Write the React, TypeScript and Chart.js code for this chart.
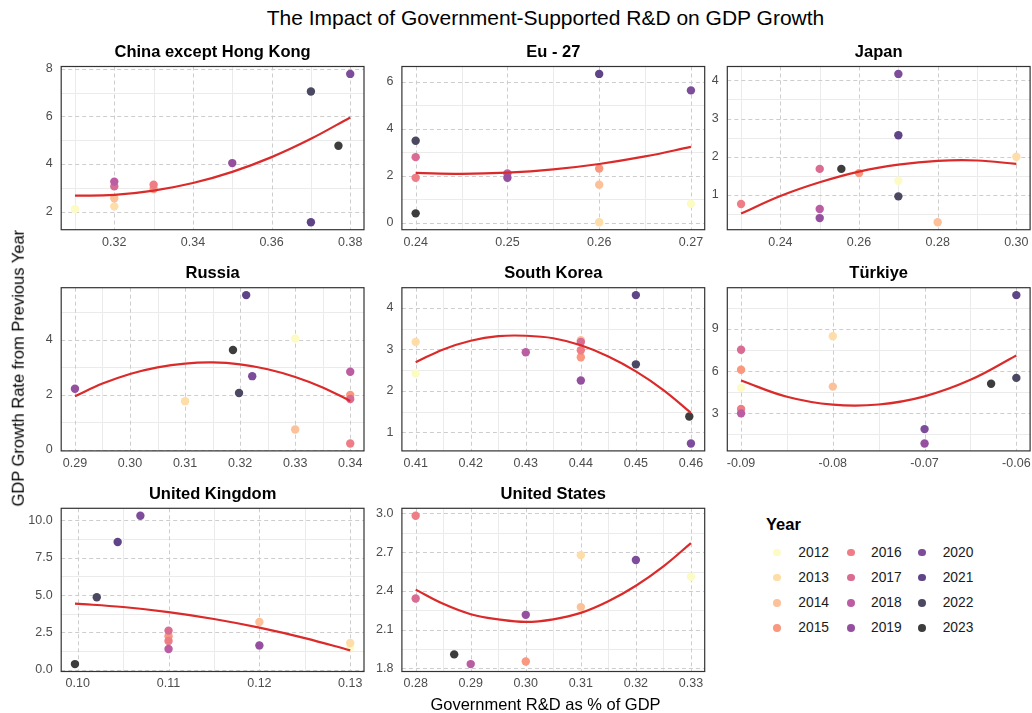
import React, { useEffect, useRef } from "react";
import { Chart, registerables } from "chart.js";

Chart.register(...registerables);

const FONT = "'Liberation Sans', Arial, Helvetica, sans-serif";

// ---------------- Data ----------------
const yearLabels = ["2012", "2013", "2014", "2015", "2016", "2017", "2018", "2019", "2020", "2021", "2022", "2023"];
const yearColors = ["#FCFBC4", "#FEDDA8", "#FDC19A", "#F9977F", "#EE7D86", "#D86C92", "#BA5DA2", "#94509E", "#7D4C9A", "#5F4487", "#4B4862", "#3D3D3D"];

const allYears = [2012, 2013, 2014, 2015, 2016, 2017, 2018, 2019, 2020, 2021, 2022, 2023];

// China except Hong Kong
const chinaX = [0.31, 0.32, 0.32, 0.33, 0.33, 0.32, 0.32, 0.35, 0.38, 0.37, 0.37, 0.377];
const chinaY = [2.11, 2.22, 2.56, 2.95, 3.13, 3.06, 3.26, 4.04, 7.79, 1.55, 7.05, 4.77];
const chinaXTicks = [0.32, 0.34, 0.36, 0.38];
const chinaYTicks = [2, 4, 6, 8];
const chinaFitX = [0.31, 0.32, 0.33, 0.34, 0.35, 0.36, 0.37, 0.38];
const chinaFitY = [2.67, 2.7, 2.88, 3.2, 3.67, 4.29, 5.06, 5.96];

// Eu - 27
const euX = [0.27, 0.26, 0.26, 0.26, 0.24, 0.24, 0.25, 0.25, 0.27, 0.26, 0.24, 0.24];
const euY = [0.81, 0.02, 1.62, 2.31, 1.91, 2.79, 2.1, 1.91, 5.63, 6.33, 3.49, 0.4];
const euXTicks = [0.24, 0.25, 0.26, 0.27];
const euYTicks = [0, 2, 4, 6];
const euFitX = [0.24, 0.245, 0.25, 0.255, 0.26, 0.265, 0.27];
const euFitY = [2.12, 2.08, 2.13, 2.27, 2.5, 2.82, 3.23];

// Japan
const japanX = [0.27, 0.3, 0.28, 0.26, 0.23, 0.25, 0.25, 0.25, 0.27, 0.27, 0.27, 0.2555];
const japanY = [1.37, 2.0, 0.28, 1.57, 0.76, 1.68, 0.63, 0.39, 4.17, 2.56, 0.96, 1.68];
const japanXTicks = [0.24, 0.26, 0.28, 0.3];
const japanYTicks = [1, 2, 3, 4];
const japanFitX = [0.23, 0.24, 0.25, 0.26, 0.27, 0.28, 0.29, 0.3];
const japanFitY = [0.51, 0.97, 1.33, 1.61, 1.79, 1.89, 1.9, 1.81];

// Russia
const russiaX = [0.33, 0.31, 0.33, 0.34, 0.34, 0.34, 0.34, 0.29, 0.3222, 0.3211, 0.3198, 0.3187];
const russiaY = [4.05, 1.77, 0.74, 2.0, 0.23, 1.85, 2.84, 2.22, 2.68, 5.63, 2.07, 3.63];
const russiaXTicks = [0.29, 0.3, 0.31, 0.32, 0.33, 0.34];
const russiaYTicks = [0, 2, 4];
const russiaFitX = [0.29, 0.295, 0.3, 0.305, 0.31, 0.315, 0.32, 0.325, 0.33, 0.335, 0.34];
const russiaFitY = [1.95, 2.41, 2.76, 3.0, 3.14, 3.18, 3.11, 2.93, 2.65, 2.27, 1.78];

// South Korea
const koreaX = [0.41, 0.41, 0.44, 0.44, 0.44, 0.44, 0.43, 0.44, 0.46, 0.45, 0.45, 0.4597];
const koreaY = [2.42, 3.18, 3.22, 2.81, 2.98, 3.18, 2.93, 2.25, 0.73, 4.31, 2.64, 1.38];
const koreaXTicks = [0.41, 0.42, 0.43, 0.44, 0.45, 0.46];
const koreaYTicks = [1, 2, 3, 4];
const koreaFitX = [0.41, 0.415, 0.42, 0.425, 0.43, 0.435, 0.44, 0.445, 0.45, 0.455, 0.46];
const koreaFitY = [2.69, 3.0, 3.21, 3.32, 3.33, 3.27, 3.1, 2.83, 2.47, 2.02, 1.47];

// Türkiye
const turkeyX = [-0.09, -0.08, -0.08, -0.09, -0.09, -0.09, -0.09, -0.07, -0.07, -0.06, -0.06, -0.06275];
const turkeyY = [4.81, 8.48, 4.9, 6.1, 3.31, 7.52, 3.0, 0.86, 1.88, 11.4, 5.52, 5.1];
const turkeyXTicks = [-0.09, -0.08, -0.07, -0.06];
const turkeyYTicks = [3, 6, 9];
const turkeyFitX = [-0.09, -0.085, -0.08, -0.075, -0.07, -0.065, -0.06];
const turkeyFitY = [5.33, 4.18, 3.62, 3.63, 4.21, 5.38, 7.11];

// United Kingdom
const ukX = [0.13, 0.13, 0.12, 0.11, 0.11, 0.11, 0.11, 0.12, 0.1069, 0.1044, 0.1021, 0.0997];
const ukY = [1.5, 1.79, 3.2, 2.24, 1.92, 2.62, 1.39, 1.63, 10.31, 8.55, 4.85, 0.38];
const ukXTicks = [0.1, 0.11, 0.12, 0.13];
const ukYTicks = [0, 2.5, 5, 7.5, 10];
const ukFitX = [0.0997, 0.105, 0.11, 0.115, 0.12, 0.125, 0.13];
const ukFitY = [4.43, 4.2, 3.86, 3.4, 2.82, 2.12, 1.3];

// United States
const usYears = [2012, 2013, 2014, 2015, 2016, 2017, 2018, 2019, 2020, 2023];
const usX = [0.33, 0.31, 0.31, 0.3, 0.28, 0.28, 0.29, 0.3, 0.32, 0.287];
const usY = [2.51, 2.677, 2.275, 1.854, 2.982, 2.342, 1.834, 2.215, 2.639, 1.909];
const usXTicks = [0.28, 0.29, 0.3, 0.31, 0.32, 0.33];
const usYTicks = [1.8, 2.1, 2.4, 2.7, 3.0];
const usFitX = [0.28, 0.285, 0.29, 0.295, 0.3, 0.305, 0.31, 0.315, 0.32, 0.325, 0.33];
const usFitY = [2.41, 2.3, 2.22, 2.18, 2.16, 2.18, 2.23, 2.32, 2.44, 2.59, 2.77];

// ---------------- Panel definitions ----------------
type PanelDef = {
  title: string;
  years: number[];
  x: number[];
  y: number[];
  xTicks: number[];
  yTicks: number[];
  xDec: number;
  yDec: number;
  fitX: number[];
  fitY: number[];
  col: number;
  row: number;
};

const panels: PanelDef[] = [
  { title: "China except Hong Kong", years: allYears, x: chinaX, y: chinaY, xTicks: chinaXTicks, yTicks: chinaYTicks, xDec: 2, yDec: 0, fitX: chinaFitX, fitY: chinaFitY, col: 0, row: 0 },
  { title: "Eu - 27", years: allYears, x: euX, y: euY, xTicks: euXTicks, yTicks: euYTicks, xDec: 2, yDec: 0, fitX: euFitX, fitY: euFitY, col: 1, row: 0 },
  { title: "Japan", years: allYears, x: japanX, y: japanY, xTicks: japanXTicks, yTicks: japanYTicks, xDec: 2, yDec: 0, fitX: japanFitX, fitY: japanFitY, col: 2, row: 0 },
  { title: "Russia", years: allYears, x: russiaX, y: russiaY, xTicks: russiaXTicks, yTicks: russiaYTicks, xDec: 2, yDec: 0, fitX: russiaFitX, fitY: russiaFitY, col: 0, row: 1 },
  { title: "South Korea", years: allYears, x: koreaX, y: koreaY, xTicks: koreaXTicks, yTicks: koreaYTicks, xDec: 2, yDec: 0, fitX: koreaFitX, fitY: koreaFitY, col: 1, row: 1 },
  { title: "Türkiye", years: allYears, x: turkeyX, y: turkeyY, xTicks: turkeyXTicks, yTicks: turkeyYTicks, xDec: 2, yDec: 0, fitX: turkeyFitX, fitY: turkeyFitY, col: 2, row: 1 },
  { title: "United Kingdom", years: allYears, x: ukX, y: ukY, xTicks: ukXTicks, yTicks: ukYTicks, xDec: 2, yDec: 1, fitX: ukFitX, fitY: ukFitY, col: 0, row: 2 },
  { title: "United States", years: usYears, x: usX, y: usY, xTicks: usXTicks, yTicks: usYTicks, xDec: 2, yDec: 1, fitX: usFitX, fitY: usFitY, col: 1, row: 2 },
];

// ---------------- Layout ----------------
const COL_LEFT = [61.2, 401.9, 727.3];
const ROW_TOP = [66.5, 287.7, 508.3];
const PLOT_W = 302.8;
const PLOT_H = 163.2;
const Y_SPACE = 50;
const T_SPACE = 28;
const X_SPACE = 24;
const RIGHT_PAD = 8;
const TITLE_FONT = 16.5;
const TITLE_PAD_BOTTOM = 3.9;
const LINE_COLOR = "#DB2A2A";

function expandRange(arr: number[]): [number, number] {
  const lo = Math.min(...arr);
  const hi = Math.max(...arr);
  const pad = (hi - lo) * 0.05;
  return [lo - pad, hi + pad];
}

function minorBreaks(ticks: number[], lo: number, hi: number): number[] {
  const step = ticks[1] - ticks[0];
  const out: number[] = [];
  for (let i = -1; i < ticks.length; i++) {
    const v = ticks[0] + (i + 0.5) * step;
    if (v >= lo && v <= hi) out.push(v);
  }
  return out;
}

function colorForYear(y: number): string {
  const idx = yearLabels.indexOf(String(y));
  return yearColors[idx];
}

function Panel({ p }: { p: PanelDef }) {
  const ref = useRef<HTMLCanvasElement>(null);
  const plotLeft = COL_LEFT[p.col];
  const plotTop = ROW_TOP[p.row];
  const cLeft = Math.round(plotLeft - Y_SPACE);
  const cTop = Math.round(plotTop - T_SPACE);
  const yAxisW = plotLeft - cLeft;
  const titleH = plotTop - cTop;
  const w = Math.ceil(yAxisW + PLOT_W + RIGHT_PAD);
  const rightPad = w - yAxisW - PLOT_W;
  const h = Math.ceil(titleH + PLOT_H + X_SPACE);
  const xAxisH = h - titleH - PLOT_H;

  useEffect(() => {
    if (!ref.current) return;
    const [xMin, xMax] = expandRange(p.x);
    const [yMin, yMax] = expandRange(p.y);
    const xMinor = minorBreaks(p.xTicks, xMin, xMax);
    const yMinor = minorBreaks(p.yTicks, yMin, yMax);

    const gridPlugin = {
      id: "ggGrid",
      beforeDatasetsDraw(chart: any) {
        const { ctx, chartArea: a } = chart;
        const xs = chart.scales.x;
        const ys = chart.scales.y;
        ctx.save();
        ctx.lineWidth = 1;
        const vline = (v: number) => {
          const px = Math.round(xs.getPixelForValue(v)) + 0.5;
          ctx.beginPath();
          ctx.moveTo(px, a.top);
          ctx.lineTo(px, a.bottom);
          ctx.stroke();
        };
        const hline = (v: number) => {
          const py = Math.round(ys.getPixelForValue(v)) + 0.5;
          ctx.beginPath();
          ctx.moveTo(a.left, py);
          ctx.lineTo(a.right, py);
          ctx.stroke();
        };
        ctx.strokeStyle = "#EBEBEB";
        ctx.setLineDash([]);
        xMinor.forEach(vline);
        yMinor.forEach(hline);
        ctx.strokeStyle = "#CDCDCD";
        ctx.setLineDash([4, 3]);
        p.xTicks.forEach(vline);
        p.yTicks.forEach(hline);
        ctx.restore();
      },
      afterDraw(chart: any) {
        const { ctx, chartArea: a } = chart;
        ctx.save();
        ctx.strokeStyle = "#333333";
        ctx.lineWidth = 1.2;
        ctx.setLineDash([]);
        ctx.strokeRect(a.left, a.top, a.right - a.left, a.bottom - a.top);
        ctx.restore();
      },
    };

    const pts = p.x.map((xv, i) => ({ x: xv, y: p.y[i] }));
    const fit = p.fitX.map((xv, i) => ({ x: xv, y: p.fitY[i] }));
    const colors = p.years.map(colorForYear);

    const chart = new Chart(ref.current, {
      type: "scatter",
      data: {
        datasets: [
          {
            type: "line",
            data: fit,
            borderColor: LINE_COLOR,
            borderWidth: 2.2,
            pointRadius: 0,
            tension: 0.4,
            fill: false,
            order: 0,
          } as any,
          {
            type: "scatter",
            data: pts,
            pointRadius: 4.2,
            pointBackgroundColor: colors,
            backgroundColor: colors,
            pointBorderWidth: 0,
            borderWidth: 0,
            order: 1,
          } as any,
        ],
      },
      options: {
        responsive: false,
        animation: false,
        devicePixelRatio: 1,
        layout: { padding: { left: 0, right: rightPad, top: 0, bottom: 0 } },
        plugins: {
          legend: { display: false },
          tooltip: { enabled: false },
          title: {
            display: true,
            text: p.title,
            fullSize: false,
            color: "#000000",
            font: { family: FONT, size: TITLE_FONT, weight: "bold" },
            padding: { top: titleH - TITLE_FONT * 1.2 - TITLE_PAD_BOTTOM, bottom: TITLE_PAD_BOTTOM },
          },
        },
        scales: {
          x: {
            type: "linear",
            position: "bottom",
            min: xMin,
            max: xMax,
            grid: { display: false, drawTicks: false },
            border: { display: false },
            ticks: {
              autoSkip: false,
              maxRotation: 0,
              minRotation: 0,
              padding: 5,
              color: "#4D4D4D",
              font: { family: FONT, size: 12.5 },
              callback: (v: any) => Number(v).toFixed(p.xDec),
            },
            afterBuildTicks: (s: any) => {
              s.ticks = p.xTicks.map((v) => ({ value: v }));
            },
            afterFit: (s: any) => {
              s.height = xAxisH;
            },
          },
          y: {
            type: "linear",
            position: "left",
            min: yMin,
            max: yMax,
            grid: { display: false, drawTicks: false },
            border: { display: false },
            ticks: {
              autoSkip: false,
              padding: 8.5,
              color: "#4D4D4D",
              font: { family: FONT, size: 12.5 },
              callback: (v: any) => Number(v).toFixed(p.yDec),
            },
            afterBuildTicks: (s: any) => {
              s.ticks = p.yTicks.map((v) => ({ value: v }));
            },
            afterFit: (s: any) => {
              s.width = yAxisW;
            },
          },
        },
      } as any,
      plugins: [gridPlugin as any],
    });
    return () => chart.destroy();
  }, []);

  return (
    <canvas
      ref={ref}
      width={w}
      height={h}
      style={{ position: "absolute", left: cLeft, top: cTop, width: w, height: h }}
    />
  );
}

const legendColumns = [
  [2012, 2013, 2014, 2015],
  [2016, 2017, 2018, 2019],
  [2020, 2021, 2022, 2023],
];

function textBox(cx: number | null, cy: number, size: number, extra: React.CSSProperties, text: string, left?: number) {
  return null;
}

export default function App() {
  const dotX = [777.3, 850.7, 922.3];
  const labelX = [798.3, 871, 942.7];
  const rowY = [552.5, 577.6, 602.7, 627.8];
  const legendFont = 13.8;
  return (
    <div
      style={{
        position: "fixed",
        left: 0,
        top: 0,
        width: 1032,
        height: 713,
        background: "#ffffff",
        overflow: "hidden",
        fontFamily: FONT,
      }}
    >
      <div
        style={{
          position: "absolute",
          left: 61,
          width: 969,
          top: 17.5 - 10.5,
          height: 21,
          lineHeight: "21px",
          fontSize: 21,
          textAlign: "center",
          color: "#000",
          whiteSpace: "nowrap",
        }}
      >
        The Impact of Government-Supported R&amp;D on GDP Growth
      </div>

      {panels.map((p) => (
        <Panel key={p.title} p={p} />
      ))}

      <div
        style={{
          position: "absolute",
          left: 61,
          width: 969,
          top: 703.8 - 8.25,
          height: 16.5,
          lineHeight: "16.5px",
          fontSize: 16.5,
          textAlign: "center",
          color: "#000",
          whiteSpace: "nowrap",
        }}
      >
        Government R&amp;D as % of GDP
      </div>

      <div
        style={{
          position: "absolute",
          left: 17.5 - 200,
          top: 368.5 - 8.25,
          width: 400,
          height: 16.5,
          lineHeight: "16.5px",
          fontSize: 16.5,
          textAlign: "center",
          color: "#000",
          whiteSpace: "nowrap",
          transform: "rotate(-90deg)",
          transformOrigin: "50% 50%",
        }}
      >
        GDP Growth Rate from Previous Year
      </div>

      <div
        style={{
          position: "absolute",
          left: 766,
          top: 524.5 - 8.25,
          height: 16.5,
          lineHeight: "16.5px",
          fontSize: 16.5,
          fontWeight: "bold",
          color: "#000",
        }}
      >
        Year
      </div>

      {legendColumns.map((col, ci) =>
        col.map((yr, ri) => (
          <React.Fragment key={yr}>
            <div
              style={{
                position: "absolute",
                left: dotX[ci] - 3.9,
                top: rowY[ri] - 3.9,
                width: 7.8,
                height: 7.8,
                borderRadius: "50%",
                background: colorForYear(yr),
              }}
            />
            <div
              style={{
                position: "absolute",
                left: labelX[ci],
                top: rowY[ri] - legendFont / 2,
                height: legendFont,
                lineHeight: `${legendFont}px`,
                fontSize: legendFont,
                color: "#1A1A1A",
                whiteSpace: "nowrap",
              }}
            >
              {String(yr)}
            </div>
          </React.Fragment>
        ))
      )}
    </div>
  );
}
